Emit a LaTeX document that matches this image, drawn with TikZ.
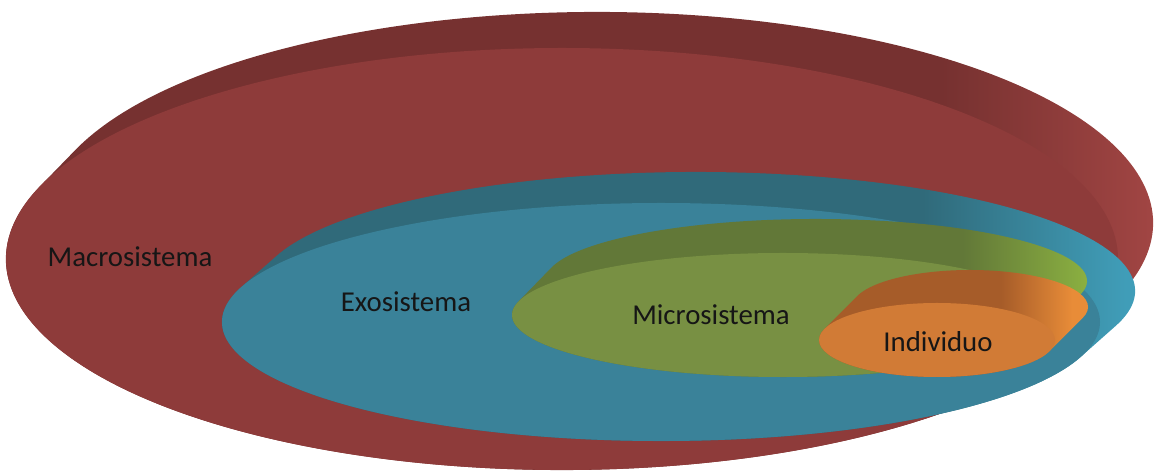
\documentclass[tikz,border=0pt]{standalone}
\usepackage{fontspec}
\setmainfont{Carlito}
\definecolor{redF}{HTML}{8E3B3A}
\definecolor{redD}{HTML}{763130}
\definecolor{redL}{HTML}{A54745}
\definecolor{bluF}{HTML}{3A8299}
\definecolor{bluD}{HTML}{306A7A}
\definecolor{bluL}{HTML}{409DB8}
\definecolor{grnF}{HTML}{789043}
\definecolor{grnD}{HTML}{627838}
\definecolor{grnL}{HTML}{8BB041}
\definecolor{orgF}{HTML}{D17B36}
\definecolor{orgD}{HTML}{A65C29}
\definecolor{orgL}{HTML}{E88C38}
\definecolor{txt}{HTML}{161616}
\pgfdeclarehorizontalshading{redside}{100bp}{color(0bp)=(redD); color(64bp)=(redD); color(73bp)=(redL); color(100bp)=(redL)}
\pgfdeclarehorizontalshading{bluside}{100bp}{color(0bp)=(bluD); color(62bp)=(bluD); color(72bp)=(bluL); color(100bp)=(bluL)}
\pgfdeclarehorizontalshading{grnside}{100bp}{color(0bp)=(grnD); color(63bp)=(grnD); color(73bp)=(grnL); color(100bp)=(grnL)}
\pgfdeclarehorizontalshading{orgside}{100bp}{color(0bp)=(orgD); color(58bp)=(orgD); color(70bp)=(orgL); color(100bp)=(orgL)}
\newcommand{\ecodisc}[8]{%
  \pgfmathsetmacro\tzero{atan(-((#4)/(#3))*((#5)/(#6)))}%
  \pgfmathsetmacro\tone{\tzero+180}%
  \pgfmathsetmacro\ttwo{\tzero+360}%
  \shade[shading=#7] (#1,#2) ++(\tzero:#3pt and #4pt) -- ++(#5,#6)
    arc[start angle=\tzero, end angle=\tone, x radius=#3, y radius=#4]
    -- ++(-#5,-#6)
    arc[start angle=\tone, end angle=\ttwo, x radius=#3, y radius=#4] -- cycle;
  \fill[#8] (#1,#2) ellipse[x radius=#3, y radius=#4];
}
\tikzset{lbl/.style={anchor=base, text=txt, inner sep=0pt, font=\fontsize{28.8}{34}\selectfont}}
\begin{document}
\begin{tikzpicture}[x=1pt,y=1pt]
\useasboundingbox (0,0) rectangle (1154,473);
\ecodisc{562}{214}{556}{211}{35}{36}{redside}{redF}
\ecodisc{661}{151}{439}{119}{35}{31}{bluside}{bluF}
\ecodisc{783}{158}{271}{62}{33}{34}{grnside}{grnF}
\ecodisc{937}{133}{118}{37}{33}{33}{orgside}{orgF}
\node[lbl] (macro) at (130,206) {Macrosistema};
\node[lbl] (exo) at (406,161) {Exosistema};
\node[lbl] (micro) at (711,148) {Microsistema};
\node[lbl] (indiv) at (938,121) {Individuo};
\end{tikzpicture}
\end{document}
